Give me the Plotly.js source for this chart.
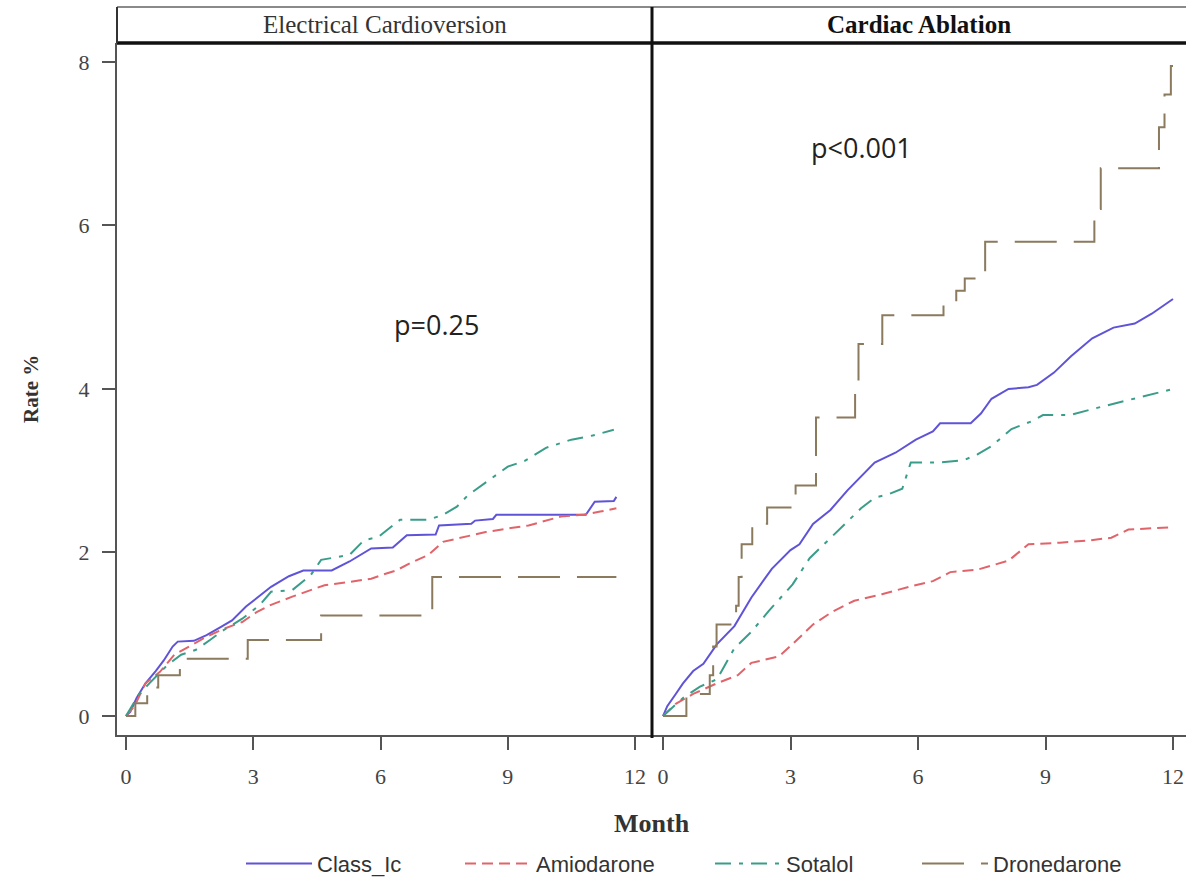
<!DOCTYPE html>
<html>
<head>
<meta charset="utf-8">
<script src="https://cdn.plot.ly/plotly-3.0.1.min.js"></script>
<style>
  html, body { margin: 0; padding: 0; background: #ffffff; }
  #chart { width: 1186px; height: 885px; }
</style>
</head>
<body>
<div id="chart"></div>
<script>
// ---- Data ----
const panelTitles = ["Electrical Cardioversion", "Cardiac Ablation"];
const seriesNames = ["Class_Ic", "Amiodarone", "Sotalol", "Dronedarone"];
const xTicks = [0, 3, 6, 9, 12];
const yTicks = [0, 2, 4, 6, 8];
const pValueTexts = ["p=0.25", "p<0.001"];

// Electrical Cardioversion
const ecClassX = [0, 0.1, 0.25, 0.46, 0.7, 0.89, 1.1, 1.22, 1.6, 1.9, 2.24, 2.5, 2.83, 3.12, 3.42, 3.84, 4.18, 4.85, 5.27, 5.78, 6.29, 6.62, 7.3, 7.38, 8.14, 8.23, 8.65, 8.73, 10.84, 11.05, 11.5, 11.56];
const ecClassY = [0, 0.05, 0.22, 0.40, 0.55, 0.68, 0.85, 0.91, 0.92, 0.99, 1.09, 1.17, 1.34, 1.46, 1.58, 1.71, 1.78, 1.78, 1.89, 2.05, 2.06, 2.21, 2.22, 2.33, 2.35, 2.39, 2.41, 2.46, 2.46, 2.62, 2.63, 2.68];
const ecAmioX = [0, 0.2, 0.46, 0.8, 1.14, 1.48, 1.9, 2.32, 2.74, 3.08, 3.42, 3.92, 4.35, 4.68, 5.27, 5.78, 6.12, 6.37, 6.7, 7.13, 7.47, 7.97, 8.48, 9.07, 9.49, 10.25, 10.76, 11.18, 11.56];
const ecAmioY = [0, 0.12, 0.40, 0.54, 0.75, 0.85, 0.97, 1.07, 1.15, 1.27, 1.36, 1.46, 1.54, 1.60, 1.64, 1.68, 1.74, 1.78, 1.87, 1.97, 2.13, 2.19, 2.25, 2.30, 2.33, 2.44, 2.46, 2.50, 2.54];
const ecSotX = [0, 0.3, 0.55, 0.97, 1.3, 1.65, 1.98, 2.3, 2.74, 3.16, 3.42, 3.92, 4.35, 4.6, 5.27, 5.61, 5.95, 6.46, 7.13, 7.47, 7.8, 8.06, 8.6, 9.0, 9.4, 9.9, 10.5, 11.0, 11.5];
const ecSotY = [0, 0.26, 0.40, 0.62, 0.75, 0.81, 0.93, 1.05, 1.19, 1.36, 1.52, 1.54, 1.72, 1.91, 1.97, 2.15, 2.19, 2.40, 2.40, 2.46, 2.56, 2.70, 2.90, 3.05, 3.12, 3.28, 3.38, 3.43, 3.50];
const ecDroX = [0, 0.22, 0.5, 0.76, 1.27, 2.87, 4.6, 7.22, 11.56];
const ecDroY = [0, 0.155, 0.35, 0.5, 0.7, 0.93, 1.23, 1.70, 1.70];

// Cardiac Ablation
const caClassX = [0, 0.1, 0.3, 0.47, 0.71, 0.95, 1.27, 1.68, 2.08, 2.56, 3.0, 3.21, 3.53, 3.94, 4.34, 4.66, 4.98, 5.47, 5.95, 6.35, 6.52, 7.24, 7.48, 7.73, 8.13, 8.6, 8.8, 9.2, 9.6, 10.1, 10.6, 11.1, 11.5, 12.0];
const caClassY = [0, 0.12, 0.27, 0.40, 0.55, 0.64, 0.88, 1.10, 1.45, 1.80, 2.03, 2.10, 2.35, 2.52, 2.76, 2.93, 3.10, 3.22, 3.38, 3.48, 3.58, 3.58, 3.70, 3.88, 4.00, 4.02, 4.05, 4.20, 4.40, 4.62, 4.75, 4.80, 4.92, 5.10];
const caAmioX = [0, 0.3, 0.71, 1.27, 1.76, 2.08, 2.73, 3.05, 3.53, 4.0, 4.5, 5.15, 5.79, 6.35, 6.76, 7.4, 8.13, 8.6, 9.34, 10.06, 10.55, 10.95, 12.0];
const caAmioY = [0, 0.15, 0.27, 0.40, 0.50, 0.65, 0.73, 0.88, 1.12, 1.28, 1.41, 1.49, 1.58, 1.65, 1.76, 1.79, 1.90, 2.10, 2.12, 2.15, 2.18, 2.28, 2.31];
const caSotX = [0, 0.47, 0.87, 1.27, 1.68, 2.08, 2.48, 3.05, 3.45, 3.94, 4.34, 4.66, 4.98, 5.3, 5.63, 5.83, 6.52, 7.08, 7.4, 7.73, 8.2, 8.7, 8.94, 9.58, 10.15, 10.7, 11.35, 12.0];
const caSotY = [0, 0.22, 0.36, 0.45, 0.83, 1.03, 1.28, 1.61, 1.93, 2.18, 2.38, 2.54, 2.67, 2.71, 2.78, 3.10, 3.10, 3.13, 3.20, 3.30, 3.51, 3.61, 3.68, 3.68, 3.76, 3.83, 3.91, 4.00];
const caDroX = [0, 0.55, 1.1, 1.18, 1.26, 1.72, 1.78, 1.85, 2.1, 2.45, 3.12, 3.6, 4.52, 4.6, 5.16, 6.6, 6.9, 7.1, 7.58, 10.15, 10.3, 11.67, 11.8, 11.95, 12.0];
const caDroY = [0, 0.27, 0.5, 0.85, 1.12, 1.35, 1.7, 2.1, 2.35, 2.55, 2.82, 3.65, 4.0, 4.55, 4.9, 5.05, 5.2, 5.35, 5.8, 6.2, 6.7, 7.2, 7.6, 7.95, 7.95];

// ---- Styles ----
const colors = ["#5f53d8", "#e0646a", "#3a9d8a", "#8b7a5e"];
const dashes = ["solid", "11px,6px", "16px,8px,4px,8px", "42px,17px"];
const lineShapes = ["linear", "linear", "linear", "hv"];
const legendIds = ["legend", "legend2", "legend3", "legend4"];
const legendLeftPx = [241, 460, 710, 917];

const panels = [
  { xs: [ecClassX, ecAmioX, ecSotX, ecDroX], ys: [ecClassY, ecAmioY, ecSotY, ecDroY], xa: "x", ya: "y" },
  { xs: [caClassX, caAmioX, caSotX, caDroX], ys: [caClassY, caAmioY, caSotY, caDroY], xa: "x2", ya: "y2" }
];

const traces = [];
panels.forEach((p, pi) => {
  seriesNames.forEach((name, si) => {
    traces.push({
      type: "scatter", mode: "lines",
      x: p.xs[si], y: p.ys[si],
      xaxis: p.xa, yaxis: p.ya,
      name: name, legendgroup: name, showlegend: pi === 0, legend: legendIds[si],
      line: { color: colors[si], width: 2, dash: dashes[si], shape: lineShapes[si] },
      hoverinfo: "skip"
    });
  });
});

// ---- Geometry ----
const W = 1186, H = 885;
const mL = 117, mR = 0, mT = 7, mB = 148;
const plotW = W - mL - mR, plotH = H - mT - mB;
const divX = (652 - mL) / plotW;
const headerBottom = (737 - 43) / plotH;

const tickFont = { family: "Liberation Serif, Times New Roman, serif", size: 22, color: "#444" };
const axisCommon = {
  showline: true, linecolor: "#555", linewidth: 2,
  ticks: "outside", ticklen: 13, tickwidth: 2, tickcolor: "#555",
  showgrid: false, zeroline: false, tickfont: tickFont, fixedrange: true
};

const layout = {
  width: W, height: H,
  margin: { l: mL, r: mR, t: mT, b: mB },
  paper_bgcolor: "#ffffff", plot_bgcolor: "#ffffff",
  showlegend: true,
  xaxis: Object.assign({}, axisCommon, {
    domain: [0, divX], range: [-0.212, 12.40], tickvals: xTicks, ticktext: xTicks.map(String),
    ticklabelstandoff: 8, anchor: "y"
  }),
  xaxis2: Object.assign({}, axisCommon, {
    domain: [divX, 1], range: [-0.259, 12.306], tickvals: xTicks, ticktext: xTicks.map(String),
    ticklabelstandoff: 8, anchor: "y2"
  }),
  yaxis: Object.assign({}, axisCommon, {
    domain: [0, headerBottom], range: [-0.232, 8.232], tickvals: yTicks, ticktext: yTicks.map(String),
    ticklabelstandoff: 8, anchor: "x"
  }),
  yaxis2: Object.assign({}, axisCommon, {
    domain: [0, headerBottom], range: [-0.232, 8.232], matches: "y",
    showticklabels: false, ticks: "", showline: false, anchor: "x2"
  }),
  shapes: [
    { type: "line", xref: "paper", yref: "paper", x0: 0, x1: 1, y0: 1, y1: 1, line: { color: "#8a8a8a", width: 2 } },
    { type: "line", xref: "paper", yref: "paper", x0: 0, x1: 1, y0: headerBottom, y1: headerBottom, line: { color: "#111", width: 3.5 } },
    { type: "line", xref: "paper", yref: "paper", x0: 0, x1: 0, y0: headerBottom, y1: 1, line: { color: "#333", width: 2 } },
    { type: "line", xref: "paper", yref: "paper", x0: divX, x1: divX, y0: -0.004, y1: 1, line: { color: "#111", width: 3 } }
  ],
  annotations: [
    { xref: "x domain", yref: "paper", x: 0.5, y: (737 - 25) / plotH, xanchor: "center", yanchor: "middle",
      text: panelTitles[0], showarrow: false,
      font: { family: "Liberation Serif, Times New Roman, serif", size: 25, color: "#333" } },
    { xref: "x2 domain", yref: "paper", x: 0.5, y: (737 - 25) / plotH, xanchor: "center", yanchor: "middle",
      text: "<b>" + panelTitles[1] + "</b>", showarrow: false,
      font: { family: "Liberation Serif, Times New Roman, serif", size: 25, color: "#111" } },
    { xref: "x", yref: "y", x: 7.33, y: 4.79, xanchor: "center", yanchor: "middle", text: pValueTexts[0], showarrow: false,
      font: { family: "Open Sans, Liberation Sans, sans-serif", size: 27, color: "#222" } },
    { xref: "x2", yref: "y2", x: 4.68, y: 6.95, xanchor: "center", yanchor: "middle", text: pValueTexts[1], showarrow: false,
      font: { family: "Open Sans, Liberation Sans, sans-serif", size: 27, color: "#222" } },
    { xref: "paper", yref: "paper", x: (652 - mL) / plotW, y: (737 - 826) / plotH, xanchor: "center", yanchor: "middle",
      text: "<b>Month</b>", showarrow: false,
      font: { family: "Liberation Serif, Times New Roman, serif", size: 26, color: "#333" } },
    { xref: "paper", yref: "paper", x: (31 - mL) / plotW, y: (737 - 390) / plotH, xanchor: "center", yanchor: "middle",
      text: "<b>Rate %</b>", showarrow: false,
      textangle: -90, font: { family: "Liberation Serif, Times New Roman, serif", size: 21, color: "#333" } }
  ]
};

legendIds.forEach((id, i) => {
  layout[id] = {
    orientation: "h", x: (legendLeftPx[i] - mL) / plotW, xanchor: "left",
    y: (737 - 866) / plotH, yanchor: "middle",
    font: { family: "Liberation Sans, Arial, sans-serif", size: 22, color: "#333" },
    itemwidth: 66, bgcolor: "rgba(0,0,0,0)", borderwidth: 0
  };
});

Plotly.newPlot("chart", traces, layout, { displayModeBar: false, staticPlot: true });
</script>
</body>
</html>
